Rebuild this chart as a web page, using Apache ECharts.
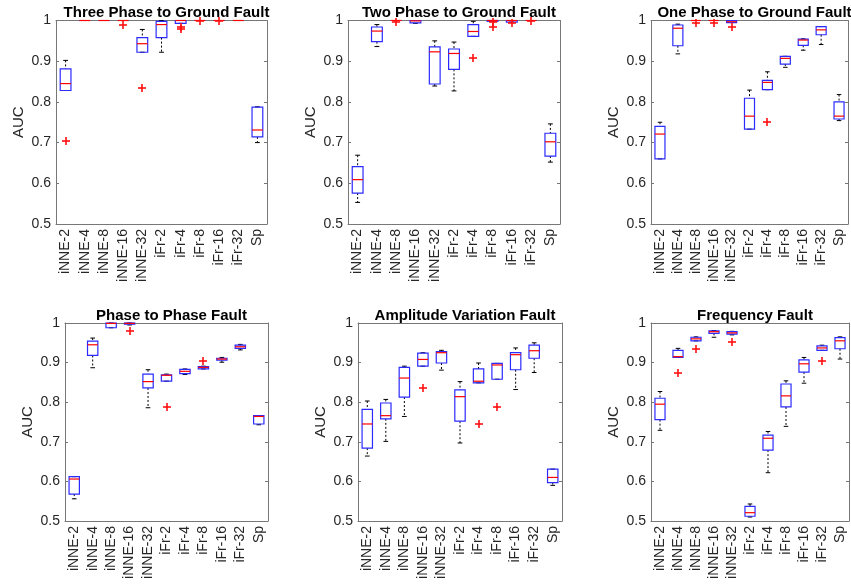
<!DOCTYPE html>
<html>
<head>
<meta charset="utf-8">
<script src="https://cdn.jsdelivr.net/npm/echarts@6/dist/echarts.min.js"></script>
<style>
  html, body { margin: 0; padding: 0; background: #fff; }
  #chart { width: 851px; height: 585px; }
</style>
</head>
<body>
<div id="chart"></div>
<script>
const categories = ['iNNE-2', 'iNNE-4', 'iNNE-8', 'iNNE-16', 'iNNE-32', 'iFr-2', 'iFr-4', 'iFr-8', 'iFr-16', 'iFr-32', 'Sp'];
const yTicks = [0.5, 0.6, 0.7, 0.8, 0.9, 1];
const titles = ['Three Phase to Ground Fault', 'Two Phase to Ground Fault', 'One Phase to Ground Fault',
  'Phase to Phase Fault', 'Amplitude Variation Fault', 'Frequency Fault'];

// box stats per category: [lower whisker, q1, median, q3, upper whisker]
const threePhaseBoxes = [
  [0.828, 0.828, 0.845, 0.881, 0.902], [1, 1, 1, 1, 1], [1, 1, 1, 1, 1], [1, 1, 1, 1, 1],
  [0.922, 0.922, 0.943, 0.958, 0.978], [0.922, 0.958, 0.990, 0.998, 1], [0.993, 0.993, 1, 1, 1],
  [1, 1, 1, 1, 1], [1, 1, 1, 1, 1], [1, 1, 1, 1, 1], [0.700, 0.714, 0.731, 0.787, 0.788]
];
const threePhaseOutliers = [[0, 0.703], [3, 0.989], [4, 0.835], [6, 0.985], [6, 0.980], [7, 0.999], [8, 0.998]];

const twoPhaseBoxes = [
  [0.553, 0.576, 0.609, 0.641, 0.669], [0.936, 0.948, 0.974, 0.984, 0.990], [1, 1, 1, 1, 1],
  [0.993, 0.994, 0.999, 1, 1], [0.839, 0.844, 0.923, 0.935, 0.950], [0.827, 0.880, 0.919, 0.930, 0.947],
  [0.961, 0.961, 0.973, 0.990, 0.998], [0.998, 0.998, 1, 1, 1], [0.996, 0.996, 1, 1, 1],
  [1, 1, 1, 1, 1], [0.652, 0.667, 0.702, 0.723, 0.746]
];
const twoPhaseOutliers = [[2, 0.996], [6, 0.908], [7, 0.996], [7, 0.984], [8, 0.993], [9, 0.998]];

const onePhaseBoxes = [
  [0.660, 0.660, 0.721, 0.740, 0.750], [0.918, 0.938, 0.981, 0.989, 0.991], [1, 1, 1, 1, 1],
  [1, 1, 1, 1, 1], [0.995, 0.995, 0.997, 1, 1], [0.733, 0.733, 0.765, 0.809, 0.829],
  [0.830, 0.830, 0.848, 0.853, 0.874], [0.885, 0.893, 0.907, 0.912, 0.912], [0.927, 0.939, 0.952, 0.954, 0.955],
  [0.941, 0.965, 0.977, 0.985, 0.985], [0.754, 0.758, 0.765, 0.800, 0.818]
];
const onePhaseOutliers = [[2, 0.995], [3, 0.995], [4, 0.985], [6, 0.751]];

const phasePhaseBoxes = [
  [0.556, 0.568, 0.606, 0.612, 0.612], [0.887, 0.918, 0.945, 0.954, 0.962], [0.988, 0.988, 0.999, 1, 1],
  [0.995, 0.997, 0.999, 1, 1], [0.786, 0.836, 0.852, 0.871, 0.882], [0.853, 0.853, 0.868, 0.869, 0.871],
  [0.870, 0.872, 0.878, 0.883, 0.884], [0.884, 0.884, 0.888, 0.890, 0.891], [0.901, 0.906, 0.909, 0.911, 0.913],
  [0.932, 0.936, 0.940, 0.944, 0.946], [0.743, 0.745, 0.764, 0.766, 0.766]
];
const phasePhaseOutliers = [[3, 0.981], [5, 0.787], [7, 0.903]];

const amplitudeBoxes = [
  [0.664, 0.684, 0.745, 0.782, 0.803], [0.701, 0.758, 0.766, 0.798, 0.807], [0.764, 0.813, 0.861, 0.888, 0.891],
  [0.891, 0.891, 0.908, 0.924, 0.925], [0.881, 0.899, 0.925, 0.928, 0.931], [0.697, 0.752, 0.814, 0.831, 0.852],
  [0.849, 0.849, 0.853, 0.884, 0.899], [0.858, 0.858, 0.894, 0.898, 0.898], [0.832, 0.882, 0.920, 0.925, 0.937],
  [0.875, 0.911, 0.930, 0.944, 0.950], [0.590, 0.597, 0.610, 0.631, 0.631]
];
const amplitudeOutliers = [[3, 0.836], [6, 0.745], [7, 0.788]];

const frequencyBoxes = [
  [0.729, 0.756, 0.795, 0.810, 0.827], [0.913, 0.913, 0.915, 0.931, 0.936], [0.955, 0.955, 0.960, 0.964, 0.965],
  [0.964, 0.974, 0.978, 0.980, 0.981], [0.970, 0.972, 0.975, 0.978, 0.979], [0.510, 0.512, 0.521, 0.537, 0.543],
  [0.622, 0.679, 0.709, 0.717, 0.726], [0.739, 0.788, 0.816, 0.846, 0.854], [0.848, 0.876, 0.897, 0.907, 0.913],
  [0.931, 0.931, 0.937, 0.942, 0.944], [0.909, 0.935, 0.955, 0.963, 0.965]
];
const frequencyOutliers = [[1, 0.873], [2, 0.935], [4, 0.953], [9, 0.904]];

const panelBoxes = [threePhaseBoxes, twoPhaseBoxes, onePhaseBoxes, phasePhaseBoxes, amplitudeBoxes, frequencyBoxes];
const panelOutliers = [threePhaseOutliers, twoPhaseOutliers, onePhaseOutliers, phasePhaseOutliers, amplitudeOutliers, frequencyOutliers];

// pixel layout of each axes box
const grids = [
  { left: 56, top: 20.5, width: 211, height: 203.5 },
  { left: 348, top: 20.5, width: 212, height: 203.5 },
  { left: 651, top: 20.5, width: 197, height: 203.5 },
  { left: 65, top: 323, width: 203, height: 198 },
  { left: 358, top: 323, width: 204, height: 198 },
  { left: 651, top: 323, width: 198, height: 198 }
];

const textColor = '#262626';
const frameColor = '#777';
const font = 'Liberation Sans, Arial, sans-serif';

function renderBox(params, api) {
  const x = api.value(0);
  const lo = api.value(1), q1 = api.value(2), med = api.value(3), q3 = api.value(4), hi = api.value(5);
  const band = api.size([1, 0])[0];
  const bw = band * 0.28;
  const cw = bw * 0.45;
  const c = v => api.coord([x, v]);
  const pLo = c(lo), pQ1 = c(q1), pMed = c(med), pQ3 = c(q3), pHi = c(hi);
  const cx = pMed[0];
  const dash = { stroke: '#000', lineWidth: 1, lineDash: [2, 2] };
  const solid = { stroke: '#000', lineWidth: 1 };
  const children = [];
  if (hi > q3) children.push({ type: 'line', shape: { x1: cx, y1: pHi[1], x2: cx, y2: pQ3[1] }, style: dash });
  if (lo < q1) children.push({ type: 'line', shape: { x1: cx, y1: pQ1[1], x2: cx, y2: pLo[1] }, style: dash });
  children.push({ type: 'line', shape: { x1: cx - cw, y1: pHi[1], x2: cx + cw, y2: pHi[1] }, style: solid });
  children.push({ type: 'line', shape: { x1: cx - cw, y1: pLo[1], x2: cx + cw, y2: pLo[1] }, style: solid });
  children.push({
    type: 'rect',
    shape: { x: cx - bw, y: pQ3[1], width: bw * 2, height: pQ1[1] - pQ3[1] },
    style: { fill: null, stroke: '#2b2bff', lineWidth: 1.2 }
  });
  children.push({ type: 'line', shape: { x1: cx - bw, y1: pMed[1], x2: cx + bw, y2: pMed[1] }, style: { stroke: '#ff0000', lineWidth: 1.2 } });
  return { type: 'group', children };
}

function renderPlus(params, api) {
  const p = api.coord([api.value(0), api.value(1)]);
  const x = Math.round(p[0]), y = Math.round(p[1]);
  const s = { stroke: '#ff1010', lineWidth: 1.6 };
  return {
    type: 'group',
    children: [
      { type: 'line', shape: { x1: x - 4, y1: y, x2: x + 4, y2: y }, style: s },
      { type: 'line', shape: { x1: x, y1: y - 4, x2: x, y2: y + 4 }, style: s }
    ]
  };
}

const option = {
  animation: false,
  backgroundColor: '#fff',
  title: [],
  grid: [],
  xAxis: [],
  yAxis: [],
  series: []
};

grids.forEach((g, i) => {
  option.grid.push({ left: g.left, top: g.top, width: g.width, height: g.height, containLabel: false });
  option.title.push({
    text: titles[i],
    left: g.left + g.width / 2,
    top: g.top - 20,
    textAlign: 'center',
    textStyle: { fontSize: 15, fontWeight: 'bold', color: '#000', fontFamily: font }
  });
  const lineStyle = { color: frameColor, width: 1 };
  option.xAxis.push({
    type: 'category', gridIndex: i, data: categories, position: 'bottom',
    axisLine: { lineStyle },
    axisTick: { inside: true, alignWithLabel: true, length: 3, lineStyle },
    axisLabel: { rotate: 90, fontSize: 14, color: textColor, fontFamily: font, margin: 5, interval: 0 }
  });
  option.xAxis.push({
    type: 'category', gridIndex: i, data: categories, position: 'top',
    axisLine: { lineStyle },
    axisTick: { inside: true, alignWithLabel: true, length: 3, lineStyle },
    axisLabel: { show: false }
  });
  option.yAxis.push({
    type: 'value', gridIndex: i, min: 0.5, max: 1, interval: 0.1, position: 'left',
    name: 'AUC', nameLocation: 'middle', nameGap: 29.5,
    nameTextStyle: { fontSize: 15, color: textColor, fontFamily: font },
    splitLine: { show: false },
    axisLine: { show: true, lineStyle },
    axisTick: { show: true, inside: true, length: 3, lineStyle },
    axisLabel: { fontSize: 14, color: textColor, fontFamily: font, margin: 5,
      formatter: v => yTicks.includes(Math.round(v * 10) / 10) ? String(Math.round(v * 10) / 10) : '' }
  });
  option.yAxis.push({
    type: 'value', gridIndex: i, min: 0.5, max: 1, interval: 0.1, position: 'right',
    splitLine: { show: false },
    axisLine: { show: true, lineStyle },
    axisTick: { show: true, inside: true, length: 3, lineStyle },
    axisLabel: { show: false }
  });
  option.series.push({
    type: 'custom',
    xAxisIndex: 2 * i, yAxisIndex: 2 * i,
    renderItem: renderBox,
    clip: false,
    data: panelBoxes[i].map((s, k) => [k].concat(s))
  });
  option.series.push({
    type: 'custom',
    xAxisIndex: 2 * i, yAxisIndex: 2 * i,
    renderItem: renderPlus,
    clip: false,
    data: panelOutliers[i]
  });
});

const chart = echarts.init(document.getElementById('chart'));
chart.setOption(option);
</script>
</body>
</html>
